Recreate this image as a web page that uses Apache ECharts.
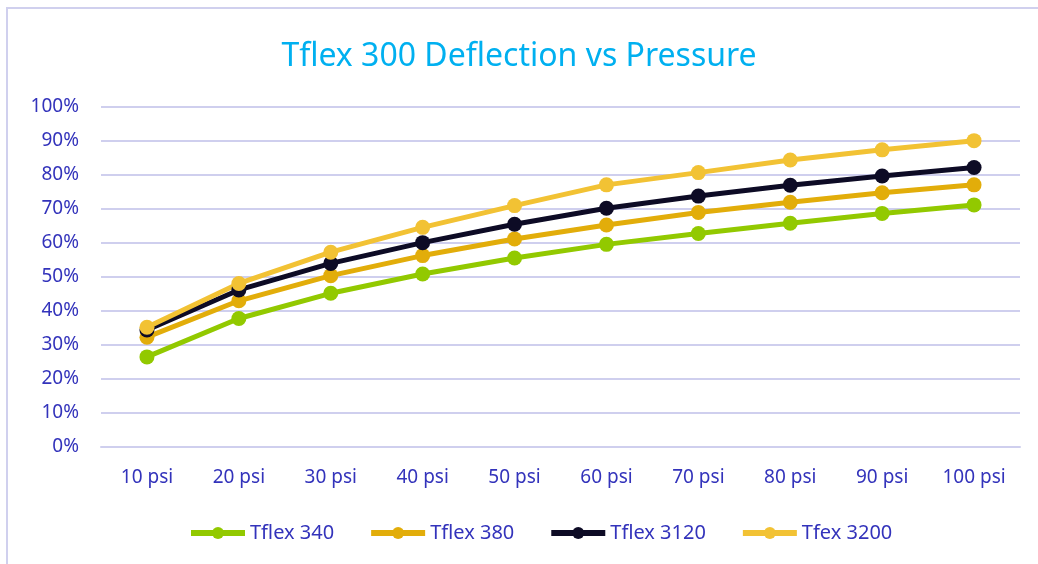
<!DOCTYPE html>
<html>
<head>
<meta charset="utf-8">
<title>Tflex 300 Deflection vs Pressure</title>
<script src="https://cdn.jsdelivr.net/npm/echarts@6/dist/echarts.min.js"></script>
<style>
  html, body { margin: 0; padding: 0; background: #fff; }
  #chart { width: 1038px; height: 564px; }
</style>
</head>
<body>
<div id="chart"></div>
<script>
var categories = ['10 psi', '20 psi', '30 psi', '40 psi', '50 psi', '60 psi', '70 psi', '80 psi', '90 psi', '100 psi'];
var tflex340  = [26.5, 37.8, 45.2, 50.9, 55.6, 59.6, 62.8, 65.8, 68.7, 71.2];
var tflex380  = [32.3, 43.0, 50.4, 56.3, 61.2, 65.3, 69.0, 72.0, 74.8, 77.1];
var tflex3120 = [34.4, 46.2, 54.0, 60.1, 65.5, 70.2, 73.8, 77.0, 79.7, 82.2];
var tfex3200  = [35.2, 48.1, 57.3, 64.6, 71.0, 77.1, 80.7, 84.4, 87.4, 90.1];

var labelColor = '#3333bb';
var font = '"Noto Sans", sans-serif';

function line(name, data, color) {
    return {
        name: name,
        type: 'line',
        data: data,
        symbol: 'circle',
        symbolSize: 15,
        lineStyle: { width: 5, color: color },
        itemStyle: { color: color },
        emphasis: { disabled: true }
    };
}

var myChart = echarts.init(document.getElementById('chart'));
var option = {
    animation: false,
    backgroundColor: '#fff',
    graphic: [{
        type: 'rect',
        shape: { x: 7, y: 8, width: 1100, height: 600 },
        style: { fill: 'none', stroke: '#d0d0ee', lineWidth: 2 },
        silent: true
    }],
    title: {
        text: 'Tflex 300 Deflection vs Pressure',
        left: 'center',
        top: 36,
        textStyle: { color: '#00b0f0', fontSize: 32, fontWeight: 'normal', fontFamily: font }
    },
    legend: {
        bottom: 16,
        left: 183,
        itemWidth: 54,
        itemHeight: 15,
        itemGap: 34,
        lineStyle: { width: 6 },
        textStyle: { color: labelColor, fontSize: 20, fontFamily: font },
        data: ['Tflex 340', 'Tflex 380', 'Tflex 3120', 'Tfex 3200']
    },
    grid: { left: 101, right: 18, top: 107, bottom: 117, containLabel: false },
    xAxis: {
        type: 'category',
        data: categories,
        boundaryGap: true,
        axisLine: { show: true, lineStyle: { color: '#cfcfee', width: 2 } },
        axisTick: { show: false },
        axisLabel: { color: labelColor, fontSize: 19, fontFamily: font, margin: 21 }
    },
    yAxis: {
        type: 'value',
        min: 0,
        max: 100,
        interval: 10,
        axisLine: { show: false },
        axisTick: { show: false },
        axisLabel: { color: labelColor, fontSize: 19, fontFamily: font, margin: 22, formatter: '{value}%' },
        splitLine: { lineStyle: { color: '#cfcfee', width: 2 } }
    },
    series: [
        line('Tflex 340', tflex340, '#92c900'),
        line('Tflex 380', tflex380, '#e2ad0a'),
        line('Tflex 3120', tflex3120, '#0d0b25'),
        line('Tfex 3200', tfex3200, '#f2c234')
    ]
};
myChart.setOption(option);
</script>
</body>
</html>
